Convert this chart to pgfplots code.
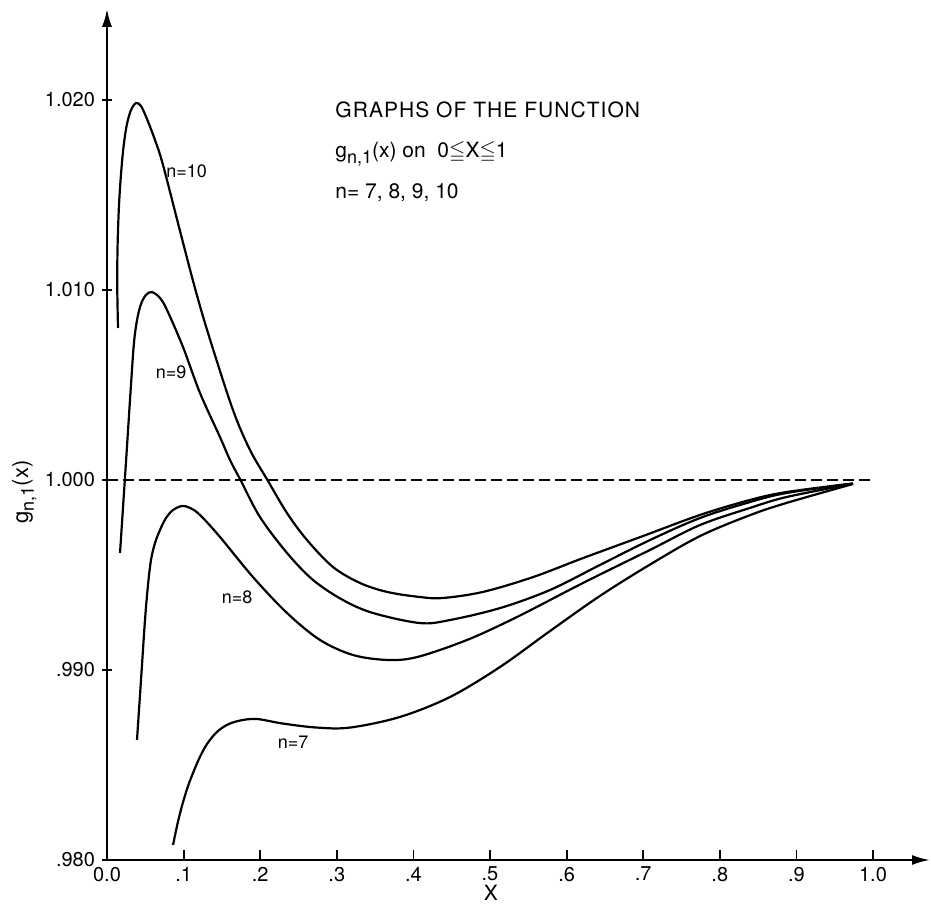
\documentclass[border=0pt]{standalone}
\usepackage{amssymb}
\usepackage{fontspec}
\setmainfont{TeX Gyre Heros}
\usepackage{pgfplots}
\pgfplotsset{compat=1.18}
\usetikzlibrary{arrows.meta}
\begin{document}
\begin{tikzpicture}
\begin{axis}[
  at={(0,0)}, anchor=south west,
  scale only axis, width=411.5pt, height=425.6pt,
  xmin=0, xmax=1.0744, ymin=0.98, ymax=1.0248,
  axis lines=left,
  x axis line style={line width=1.1pt,-{Latex[length=9pt,width=5pt]}},
  y axis line style={line width=1.1pt,-{Latex[length=9pt,width=5pt]}},
  xtick={0,0.1,0.2,0.3,0.4,0.5,0.6,0.7,0.8,0.9,1.0},
  xticklabels={0.0,.1,.2,.3,.4,.5,.6,.7,.8,.9,1.0},
  ytick={0.98,0.99,1.0,1.01,1.02},
  yticklabels={.980,.990,1.000,1.010,1.020},
  xtick align=inside, ytick align=center,
  major tick length=5pt,
  tick style={line width=0.9pt, black},
  tick label style={font=\fontsize{10}{11}\selectfont},
  clip=false,
]
\addplot[black, line width=0.9pt, dash pattern=on 5.5pt off 2.5pt] coordinates {(0,1.0) (1.0,1.0)};

% n = 10
\addplot[black, line width=1.1pt, smooth, tension=0.55] coordinates {
(0.01436,1.00800) (0.01345,1.01000) (0.01371,1.01211) (0.01567,1.01447) (0.01893,1.01642)
(0.02219,1.01774) (0.02611,1.01874) (0.03133,1.01947) (0.03786,1.01984) (0.04439,1.01968)
(0.05222,1.01900) (0.06266,1.01789) (0.07311,1.01658) (0.09791,1.01270) (0.11619,1.00990)
(0.13446,1.00740) (0.16449,1.00368) (0.18668,1.00158) (0.21018,0.99995) (0.23499,0.99826)
(0.26110,0.99684) (0.29504,0.99542) (0.33029,0.99458) (0.36554,0.99411) (0.40862,0.99384)
(0.43864,0.99379) (0.49086,0.99411) (0.55614,0.99489) (0.62141,0.99589) (0.69974,0.99705)
(0.77415,0.99816) (0.83943,0.99895) (0.88773,0.99937) (0.97389,0.99982)};

% n = 9
\addplot[black, line width=1.1pt, smooth, tension=0.55] coordinates {
(0.0170,0.99616) (0.0248,1.00095) (0.0313,1.00500) (0.0352,1.00721) (0.0392,1.00842)
(0.0444,1.00926) (0.0509,1.00974) (0.0587,1.00989) (0.0692,1.00958) (0.0783,1.00895)
(0.0992,1.00700) (0.1214,1.00458) (0.1475,1.00226) (0.1606,1.00105) (0.1749,0.99995)
(0.1997,0.99805) (0.2350,0.99616) (0.2689,0.99474) (0.3081,0.99368) (0.3473,0.99300)
(0.4086,0.99247) (0.4478,0.99263) (0.5131,0.99326) (0.5783,0.99421) (0.6436,0.99553)
(0.7089,0.99684) (0.7742,0.99800) (0.8394,0.99884) (0.8877,0.99932) (0.97389,0.99981)};

% n = 8
\addplot[black, line width=1.1pt, smooth, tension=0.55] coordinates {
(0.03916,0.98632) (0.04439,0.98947) (0.04961,0.99263) (0.05352,0.99447) (0.05744,0.99579)
(0.06266,0.99668) (0.06919,0.99737) (0.07702,0.99800) (0.08616,0.99842) (0.09791,0.99863)
(0.10836,0.99853) (0.12141,0.99816) (0.14752,0.99700) (0.19060,0.99489) (0.23499,0.99300)
(0.27807,0.99158) (0.32115,0.99079) (0.36554,0.99053) (0.40470,0.99068) (0.46997,0.99158)
(0.53525,0.99279) (0.62141,0.99458) (0.70888,0.99632) (0.77415,0.99763) (0.83943,0.99853)
(0.88773,0.99911) (0.97389,0.99980)};

% n = 7
\addplot[black, line width=1.1pt, smooth, tension=0.55] coordinates {
(0.0862,0.98079) (0.0920,0.98190) (0.0979,0.98285) (0.1050,0.98380) (0.1123,0.98458)
(0.1210,0.98540) (0.1305,0.98610) (0.1430,0.98672) (0.1567,0.98711) (0.1736,0.98734)
(0.1958,0.98742) (0.2298,0.98718) (0.2742,0.98697) (0.3172,0.98697) (0.3825,0.98753)
(0.4478,0.98858) (0.5131,0.99016) (0.5783,0.99205) (0.6436,0.99390) (0.7089,0.99555)
(0.7742,0.99705) (0.8394,0.99815) (0.8877,0.99880) (0.97389,0.99979)};

\node[font=\fontsize{9}{10}\selectfont] at (axis cs:0.104,1.01626) {n=10};
\node[font=\fontsize{9}{10}\selectfont] at (axis cs:0.0836,1.00568) {n=9};
\node[font=\fontsize{9}{10}\selectfont] at (axis cs:0.170,0.99384) {n=8};
\node[font=\fontsize{9}{10}\selectfont] at (axis cs:0.243,0.98621) {n=7};

\node[anchor=base west, inner sep=0pt, font=\fontsize{10.5}{12}\selectfont\addfontfeatures{LetterSpace=5}] at (axis cs:0.2977,1.0191) {GRAPHS OF THE FUNCTION};
\node[anchor=base west, inner sep=0pt, font=\fontsize{10.5}{12}\selectfont] at (axis cs:0.2977,1.01695) {g\raisebox{-0.5ex}{\fontsize{9}{10}\selectfont n,1}(x) on\ \ 0$\leqq$X$\leqq$1};
\node[anchor=base west, inner sep=0pt, font=\fontsize{10.5}{12}\selectfont] at (axis cs:0.2977,1.01484) {n= 7, 8, 9, 10};

\node[rotate=90, font=\fontsize{11}{13}\selectfont] at (axis cs:-0.108,0.99937) {g\raisebox{-0.5ex}{\fontsize{9}{10}\selectfont n,1}(x)};
\node[font=\fontsize{10.5}{12}\selectfont] at (axis cs:0.501,0.97826) {X};
\end{axis}
\pgfresetboundingbox
\path[use as bounding box] (-53.5pt,-22pt) rectangle (412pt,430pt);
\end{tikzpicture}
\end{document}
